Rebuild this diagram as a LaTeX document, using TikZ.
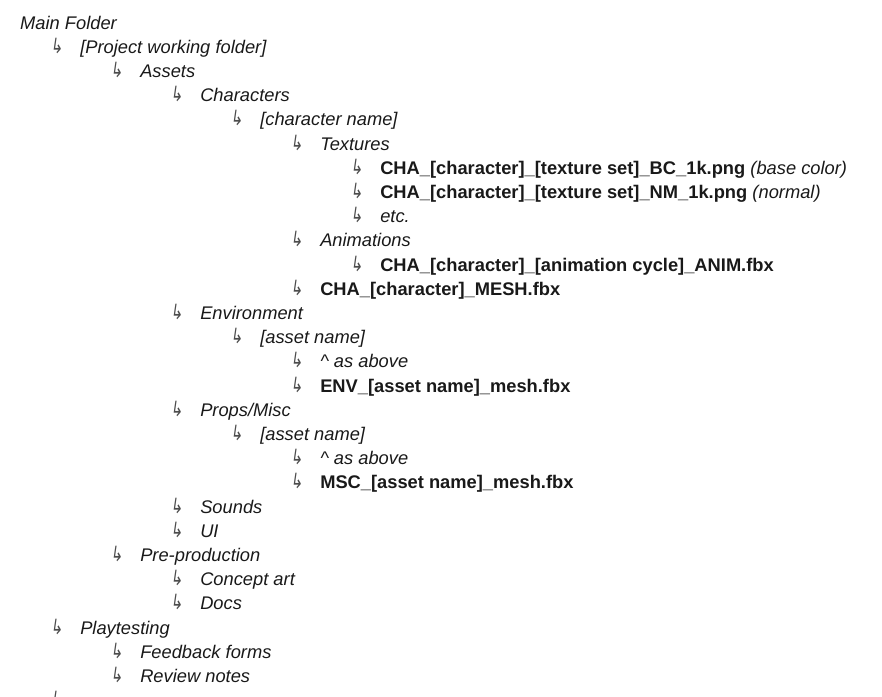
\documentclass[tikz,border=0pt]{standalone}
\usepackage{fontspec}
\setmainfont{Liberation Sans}
\newfontfamily\hookfont[FakeSlant=0.2]{DejaVu Sans}
\usetikzlibrary{positioning}

\newcommand{\hooksign}{\scalebox{0.72}[1]{↳}}

\begin{document}
\begin{tikzpicture}[
    x=1pt, y=-1pt,
    entry/.style={inner sep=0pt, anchor=base west, text=black!90, font={\fontsize{18.3pt}{22pt}\selectfont\itshape}},
    file/.style={entry, font={\fontsize{18.3pt}{22pt}\selectfont\bfseries}},
    hook/.style={inner sep=0pt, anchor=base west, text=black!70, font={\fontsize{21pt}{24pt}\selectfont\hookfont}},
    node distance=17pt
]
\useasboundingbox (0,0) rectangle (882,696);

% Root
\node[entry] (main) at (20,29) {Main Folder};

% Project
\node[hook] (h-project) at (50,53.2) {\hooksign};
\node[entry, right=of h-project.base east, anchor=base west] (project) {[Project working folder]};
\node[hook] (h-assets) at (110,77.4) {\hooksign};
\node[entry, right=of h-assets.base east, anchor=base west] (assets) {Assets};

% Characters
\node[hook] (h-characters) at (170,101.6) {\hooksign};
\node[entry, right=of h-characters.base east, anchor=base west] (characters) {Characters};
\node[hook] (h-charname) at (230,125.8) {\hooksign};
\node[entry, right=of h-charname.base east, anchor=base west] (charname) {[character name]};
\node[hook] (h-textures) at (290,150.0) {\hooksign};
\node[entry, right=of h-textures.base east, anchor=base west] (textures) {Textures};
\node[hook] (h-bc) at (350,174.2) {\hooksign};
\node[file, right=of h-bc.base east, anchor=base west] (bc) {CHA\_[character]\_[texture set]\_BC\_1k.png \textmd{\itshape(base color)}};
\node[hook] (h-nm) at (350,198.4) {\hooksign};
\node[file, right=of h-nm.base east, anchor=base west] (nm) {CHA\_[character]\_[texture set]\_NM\_1k.png \textmd{\itshape(normal)}};
\node[hook] (h-etc) at (350,222.6) {\hooksign};
\node[entry, right=of h-etc.base east, anchor=base west] (etc) {etc.};
\node[hook] (h-animations) at (290,246.8) {\hooksign};
\node[entry, right=of h-animations.base east, anchor=base west] (animations) {Animations};
\node[hook] (h-anim) at (350,271.0) {\hooksign};
\node[file, right=of h-anim.base east, anchor=base west] (anim) {CHA\_[character]\_[animation cycle]\_ANIM.fbx};
\node[hook] (h-chamesh) at (290,295.2) {\hooksign};
\node[file, right=of h-chamesh.base east, anchor=base west] (chamesh) {CHA\_[character]\_MESH.fbx};

% Environment
\node[hook] (h-environment) at (170,319.4) {\hooksign};
\node[entry, right=of h-environment.base east, anchor=base west] (environment) {Environment};
\node[hook] (h-envasset) at (230,343.6) {\hooksign};
\node[entry, right=of h-envasset.base east, anchor=base west] (envasset) {[asset name]};
\node[hook] (h-envabove) at (290,367.8) {\hooksign};
\node[entry, right=of h-envabove.base east, anchor=base west] (envabove) {\^{} as above};
\node[hook] (h-envmesh) at (290,392.0) {\hooksign};
\node[file, right=of h-envmesh.base east, anchor=base west] (envmesh) {ENV\_[asset name]\_mesh.fbx};

% Props
\node[hook] (h-props) at (170,416.2) {\hooksign};
\node[entry, right=of h-props.base east, anchor=base west] (props) {Props/Misc};
\node[hook] (h-mscasset) at (230,440.4) {\hooksign};
\node[entry, right=of h-mscasset.base east, anchor=base west] (mscasset) {[asset name]};
\node[hook] (h-mscabove) at (290,464.6) {\hooksign};
\node[entry, right=of h-mscabove.base east, anchor=base west] (mscabove) {\^{} as above};
\node[hook] (h-mscmesh) at (290,488.8) {\hooksign};
\node[file, right=of h-mscmesh.base east, anchor=base west] (mscmesh) {MSC\_[asset name]\_mesh.fbx};

% Sounds, UI
\node[hook] (h-sounds) at (170,513.0) {\hooksign};
\node[entry, right=of h-sounds.base east, anchor=base west] (sounds) {Sounds};
\node[hook] (h-ui) at (170,537.2) {\hooksign};
\node[entry, right=of h-ui.base east, anchor=base west] (ui) {UI};

% Pre-production
\node[hook] (h-preprod) at (110,561.4) {\hooksign};
\node[entry, right=of h-preprod.base east, anchor=base west] (preprod) {Pre-production};
\node[hook] (h-concept) at (170,585.6) {\hooksign};
\node[entry, right=of h-concept.base east, anchor=base west] (concept) {Concept art};
\node[hook] (h-docs) at (170,609.8) {\hooksign};
\node[entry, right=of h-docs.base east, anchor=base west] (docs) {Docs};

% Playtesting
\node[hook] (h-playtest) at (50,634.0) {\hooksign};
\node[entry, right=of h-playtest.base east, anchor=base west] (playtest) {Playtesting};
\node[hook] (h-feedback) at (110,658.2) {\hooksign};
\node[entry, right=of h-feedback.base east, anchor=base west] (feedback) {Feedback forms};
\node[hook] (h-review) at (110,682.4) {\hooksign};
\node[entry, right=of h-review.base east, anchor=base west] (review) {Review notes};

% Cut off at the bottom edge
\node[hook] (h-next) at (50,706.6) {\hooksign};

\end{tikzpicture}
\end{document}
